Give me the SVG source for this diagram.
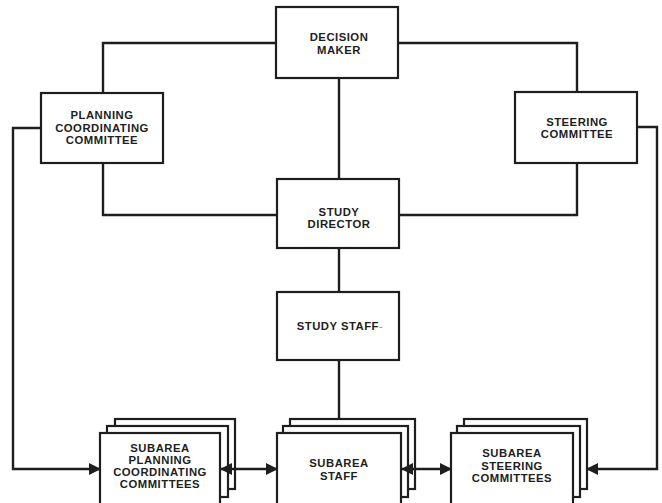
<svg xmlns="http://www.w3.org/2000/svg" width="662" height="503" viewBox="0 0 662 503">
  <style>
    .box { fill: #ffffff; stroke: #1e1e1e; stroke-width: 2.2; }
    .wire { fill: none; stroke: #1e1e1e; stroke-width: 2.4; }
    .lbl { font-family: "Liberation Sans", Arial, sans-serif; font-size: 11.3px; font-weight: bold; fill: #1e1e1e; text-anchor: middle; letter-spacing: 0.5px; }
  </style>
  <defs>
    <marker id="arrow" viewBox="0 0 12 12" refX="11" refY="6" markerWidth="12" markerHeight="12" markerUnits="userSpaceOnUse" orient="auto-start-reverse">
      <path d="M0,0 L12,6 L0,12 Z" fill="#1e1e1e"/>
    </marker>
  </defs>
  <rect width="662" height="503" fill="#ffffff"/>

  <g id="decision-maker">
    <rect class="box" x="276" y="7" width="122" height="71"/>
    <text class="lbl" x="339" y="41">DECISION</text>
    <text class="lbl" x="339" y="54">MAKER</text>
  </g>

  <g id="planning-committee">
    <rect class="box" x="41" y="93" width="122" height="70"/>
    <text class="lbl" x="102" y="119">PLANNING</text>
    <text class="lbl" x="102" y="132">COORDINATING</text>
    <text class="lbl" x="102" y="144">COMMITTEE</text>
  </g>

  <g id="steering-committee">
    <rect class="box" x="515" y="92" width="122" height="71"/>
    <text class="lbl" x="577" y="126">STEERING</text>
    <text class="lbl" x="577" y="138">COMMITTEE</text>
  </g>

  <g id="study-director">
    <rect class="box" x="277" y="179" width="122" height="69"/>
    <text class="lbl" x="339" y="216">STUDY</text>
    <text class="lbl" x="339" y="228">DIRECTOR</text>
  </g>

  <g id="study-staff">
    <rect class="box" x="277" y="292" width="122" height="68"/>
    <text class="lbl" x="340" y="330">STUDY STAFF<tspan fill="#9a9a9a" font-weight="normal">-</tspan></text>
  </g>

  <g id="subarea-planning">
    <rect class="box" x="115" y="419" width="120" height="70"/>
    <rect class="box" x="107" y="426" width="121" height="71"/>
    <rect class="box" x="100" y="433" width="120" height="80"/>
    <text class="lbl" x="160" y="452">SUBAREA</text>
    <text class="lbl" x="160" y="464">PLANNING</text>
    <text class="lbl" x="160" y="476">COORDINATING</text>
    <text class="lbl" x="160" y="488">COMMITTEES</text>
  </g>

  <g id="subarea-staff">
    <rect class="box" x="290" y="419" width="125" height="70"/>
    <rect class="box" x="283" y="426" width="125" height="71"/>
    <rect class="box" x="277" y="433" width="124" height="80"/>
    <text class="lbl" x="339" y="467">SUBAREA</text>
    <text class="lbl" x="339" y="480">STAFF</text>
  </g>

  <g id="subarea-steering">
    <rect class="box" x="464" y="419" width="123" height="70"/>
    <rect class="box" x="457" y="426" width="123" height="71"/>
    <rect class="box" x="451" y="433" width="122" height="80"/>
    <text class="lbl" x="512" y="457">SUBAREA</text>
    <text class="lbl" x="512" y="470">STEERING</text>
    <text class="lbl" x="512" y="482">COMMITTEES</text>
  </g>

  <!-- connectors, drawn over the boxes so the stacked arrowheads show -->
  <g id="connectors">
    <!-- decision maker to the two committees -->
    <path class="wire" d="M276,43 H103 V93"/>
    <path class="wire" d="M398,43 H577 V92"/>
    <!-- decision maker to study director -->
    <path class="wire" d="M339,78 V179"/>
    <!-- committees to study director -->
    <path class="wire" d="M103,163 V215 H277"/>
    <path class="wire" d="M577,163 V215 H399"/>
    <!-- study director to study staff to subarea staff -->
    <path class="wire" d="M339,248 V292"/>
    <path class="wire" d="M339,360 V419"/>
    <!-- outer feeds into the subarea committees -->
    <path class="wire" d="M41,128 H13 V469 H100" marker-end="url(#arrow)"/>
    <path class="wire" d="M637,127 H657 V469 H587" marker-end="url(#arrow)"/>
    <!-- links between the subarea groups -->
    <path class="wire" d="M221,469 H277" marker-start="url(#arrow)" marker-end="url(#arrow)"/>
    <path class="wire" d="M402,469 H451" marker-start="url(#arrow)" marker-end="url(#arrow)"/>
  </g>
</svg>
